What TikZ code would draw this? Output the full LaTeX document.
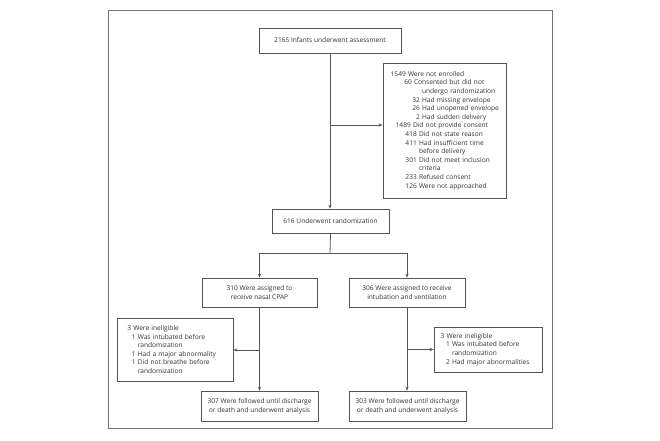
\documentclass[tikz,border=0pt]{standalone}
\usepackage{fontspec}
\setmainfont{Open Sans}
\usetikzlibrary{arrows.meta}
\definecolor{ln}{HTML}{555555}
\definecolor{tx}{HTML}{333333}
\newcommand{\nl}[3]{\mbox{\makebox[#1][r]{#2\ }#3}}
\begin{document}
\begin{tikzpicture}[x=1pt,y=-1pt,
  box/.style={draw=ln, line width=0.7pt, text=tx, font=\fontsize{6.6}{8.6}\selectfont, inner sep=0pt, align=center},
  conn/.style={draw=ln, line width=0.8pt},
  arr/.style={conn, -{Stealth[length=4pt,width=3.2pt]}}]
\useasboundingbox (0,0) rectangle (660,440);
\fill[white] (0,0) rectangle (660,440);
\draw[draw=black!55, line width=0.7pt] (108,10) rectangle (552,428);
\node[box, minimum width=142pt, minimum height=25pt] (top) at (330,40.5) {2165 Infants underwent assessment};
\node[box, minimum width=123pt, minimum height=135pt, align=left, text width=107.6pt, inner xsep=7.7pt] (excl) at (444.5,130.5) {%
\mbox{1549 Were not enrolled}\\
\nl{23.3pt}{60}{Consented but did not}\\
\nl{31.3pt}{}{undergo randomization}\\
\nl{31.3pt}{32}{Had missing envelope}\\
\nl{31.3pt}{26}{Had unopened envelope}\\
\nl{31.3pt}{2}{Had sudden delivery}\\
\nl{22.3pt}{1489}{Did not provide consent}\\
\nl{28.3pt}{418}{Did not state reason}\\
\nl{28.3pt}{411}{Had insufficient time}\\
\nl{28.3pt}{}{before delivery}\\
\nl{28.3pt}{301}{Did not meet inclusion}\\
\nl{28.3pt}{}{criteria}\\
\nl{28.3pt}{233}{Refused consent}\\
\nl{28.3pt}{126}{Were not approached}};
\node[box, minimum width=117pt, minimum height=24pt] (rand) at (330.5,221) {616 Underwent randomization};
\node[box, minimum width=115pt, minimum height=29pt] (cpap) at (259.5,292.5) {310 Were assigned to\\receive nasal CPAP};
\node[box, minimum width=116pt, minimum height=29pt] (intub) at (407,292.5) {306 Were assigned to receive\\intubation and ventilation};
\node[box, minimum width=116pt, minimum height=63pt, align=left, text width=95.4pt, inner xsep=10.3pt] (inelL) at (175,349.5) {%
\mbox{3 Were ineligible}\\
\nl{10.5pt}{1}{Was intubated before}\\
\nl{10.5pt}{}{randomization}\\
\nl{10.5pt}{1}{Had a major abnormality}\\
\nl{10.5pt}{1}{Did not breathe before}\\
\nl{10.5pt}{}{randomization}};
\node[box, minimum width=108pt, minimum height=45pt, align=left, text width=94.6pt, inner xsep=6.7pt] (inelR) at (488,349.5) {%
\mbox{3 Were ineligible}\\
\nl{11.3pt}{1}{Was intubated before}\\
\nl{11.3pt}{}{randomization}\\
\nl{11.3pt}{2}{Had major abnormalities}};
\node[box, minimum width=117pt, minimum height=30pt] (finL) at (259.5,406) {307 Were followed until discharge\\or death and underwent analysis};
\node[box, minimum width=117pt, minimum height=30pt] (finR) at (407.5,406) {303 Were followed until discharge\\or death and underwent analysis};
\coordinate (b1) at (330,125);
\coordinate (split) at (330,253);
\coordinate (b2) at (259.5,350);
\coordinate (b3) at (407,349.5);
\draw[arr] (top.south) -- (top.south |- rand.north);
\draw[arr] (b1) -- (b1 -| excl.west);
\draw[conn] (rand.south) -- (split);
\draw[arr] (split) -| (cpap.north);
\draw[arr] (split) -| (intub.north);
\draw[arr] (cpap.south) -- (cpap.south |- finL.north);
\draw[arr] (intub.south) -- (intub.south |- finR.north);
\draw[arr] (b2) -- (b2 -| inelL.east);
\draw[arr] (b3) -- (b3 -| inelR.west);
\end{tikzpicture}
\end{document}
